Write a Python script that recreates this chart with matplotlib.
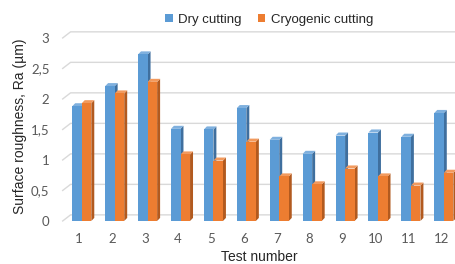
import matplotlib.pyplot as plt
from matplotlib.patches import Polygon, Rectangle

plt.rcParams['font.family'] = ['Liberation Sans', 'DejaVu Sans']

tests = list(range(1, 13))
dry = [1.88, 2.21, 2.73, 1.51, 1.50, 1.85, 1.33, 1.10, 1.40, 1.45, 1.38, 1.77]
cryo = [1.93, 2.09, 2.28, 1.09, 0.99, 1.30, 0.73, 0.60, 0.86, 0.73, 0.58, 0.79]
yticks = [0, 0.5, 1, 1.5, 2, 2.5, 3]
ytick_labels = ['0', '0,5', '1', '1,5', '2', '2,5', '3']

BLUE, BLUE_D, BLUE_T = '#5B9BD5', '#3F6F9E', '#7FB0DE'
ORANGE, ORANGE_D, ORANGE_T = '#ED7D31', '#B25A1F', '#F29A5E'
GRID = '#D9D9D9'
TXT = '#595959'

fig = plt.figure(figsize=(4.56, 2.64), dpi=100)
ax = fig.add_axes([0.136, 0.163, 0.864, 0.721])
ax.set_xlim(0.48, 12.45)
ax.set_ylim(0, 3.12)

w = 0.29
ddx, ddy = 0.09, 0.05   # depth of the 3D look

# gridlines with a slanted floor edge
gx0, gdx, gdy = 0.5, 0.24, 0.1
for v in yticks:
    ax.plot([gx0, gx0 + gdx, 12.45], [v, v + gdy, v + gdy], color=GRID,
            lw=1.0, zorder=0, clip_on=False)


def bar3d(x, h, face, side, top):
    ax.add_patch(Polygon([(x + w, 0), (x + w + ddx, ddy), (x + w + ddx, h + ddy), (x + w, h)],
                         closed=True, fc=side, ec='none', zorder=2))
    ax.add_patch(Polygon([(x, h), (x + ddx, h + ddy), (x + w + ddx, h + ddy), (x + w, h)],
                         closed=True, fc=top, ec='none', zorder=2))
    ax.add_patch(Rectangle((x, 0), w, h, fc=face, ec='none', zorder=3))


for t, d, c in zip(tests, dry, cryo):
    bar3d(t - 0.21, d, BLUE, BLUE_D, BLUE_T)
    bar3d(t - 0.21 + w, c, ORANGE, ORANGE_D, ORANGE_T)

ax.set_yticks(yticks)
ax.set_yticklabels(ytick_labels, family=['Lato', 'DejaVu Sans'])
ax.set_xticks(tests)
ax.set_xticklabels([str(t) for t in tests], family=['Lato', 'DejaVu Sans'])
ax.tick_params(axis='both', length=0, colors=TXT, labelsize=9.5)
ax.tick_params(axis='y', pad=9)
ax.tick_params(axis='x', pad=9)
for s in ax.spines.values():
    s.set_visible(False)

ax.set_xlabel('Test number', fontsize=10, color='#262626', labelpad=3)
ax.set_ylabel('Surface roughness, Ra (µm)', fontsize=10, color='#262626', labelpad=3)

h1 = Rectangle((0, 0), 1, 1, fc=BLUE, ec='none')
h2 = Rectangle((0, 0), 1, 1, fc=ORANGE, ec='none')
fig.legend([h1, h2], ['Dry cutting', 'Cryogenic cutting'], loc='center',
           bbox_to_anchor=(0.59, 0.925), ncol=2, frameon=False, fontsize=9.5,
           handlelength=0.6, handleheight=0.6, handletextpad=0.4, columnspacing=1.2,
           labelcolor='#262626')

fig.savefig('out.png', dpi=100)
